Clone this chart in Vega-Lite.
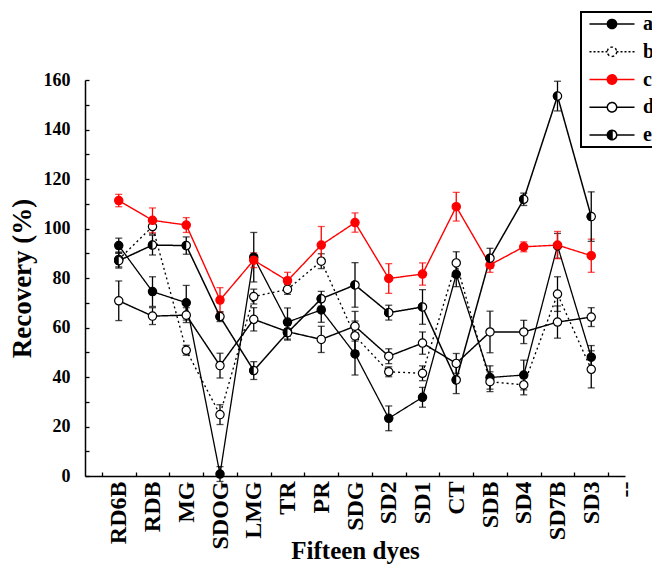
{
  "$schema": "https://vega.github.io/schema/vega-lite/v6.json",
  "width": 540,
  "height": 396,
  "autosize": {"type": "none"},
  "padding": {"left": 85, "top": 80, "right": 27, "bottom": 88},
  "background": "white",
  "config": {
    "view": {"stroke": null},
    "axis": {
      "domainColor": "black", "domainWidth": 1.5, "tickColor": "black", "tickWidth": 1.3,
      "labelFont": "Liberation Serif", "labelFontWeight": "bold", "labelColor": "black",
      "titleFont": "Liberation Serif", "titleFontWeight": "bold", "titleColor": "black", "grid": false
    }
  },
  "data": {"values": [
    {"dye":"RD6B","series":"a","value":93.1,"err":3},
    {"dye":"RDB","series":"a","value":74.5,"err":6},
    {"dye":"MG","series":"a","value":70,"err":7},
    {"dye":"SDOG","series":"a","value":0.8,"err":3},
    {"dye":"LMG","series":"a","value":88.4,"err":10},
    {"dye":"TR","series":"a","value":62.2,"err":5.7},
    {"dye":"PR","series":"a","value":67.1,"err":5},
    {"dye":"SDG","series":"a","value":49.3,"err":8.5},
    {"dye":"SD2","series":"a","value":23.3,"err":5},
    {"dye":"SD1","series":"a","value":31.8,"err":4},
    {"dye":"CT","series":"a","value":81.5,"err":5},
    {"dye":"SDB","series":"a","value":39.8,"err":4.7},
    {"dye":"SD4","series":"a","value":40.8,"err":6},
    {"dye":"SD7B","series":"a","value":93,"err":5},
    {"dye":"SD3","series":"a","value":48,"err":4.7},
    {"dye":"RD6B","series":"b","value":87.5,"err":3},
    {"dye":"RDB","series":"b","value":100.8,"err":3},
    {"dye":"MG","series":"b","value":50.8,"err":2},
    {"dye":"SDOG","series":"b","value":24.8,"err":4},
    {"dye":"LMG","series":"b","value":72.5,"err":3},
    {"dye":"TR","series":"b","value":75.4,"err":2},
    {"dye":"PR","series":"b","value":86.8,"err":3},
    {"dye":"SDG","series":"b","value":56.6,"err":6},
    {"dye":"SD2","series":"b","value":42.1,"err":2},
    {"dye":"SD1","series":"b","value":41.5,"err":3},
    {"dye":"CT","series":"b","value":86.1,"err":4.5},
    {"dye":"SDB","series":"b","value":38.1,"err":4},
    {"dye":"SD4","series":"b","value":36.8,"err":4},
    {"dye":"SD7B","series":"b","value":73.5,"err":7},
    {"dye":"SD3","series":"b","value":43.1,"err":7.5},
    {"dye":"RD6B","series":"c","value":111.3,"err":2.5},
    {"dye":"RDB","series":"c","value":103.3,"err":5},
    {"dye":"MG","series":"c","value":101.4,"err":3},
    {"dye":"SDOG","series":"c","value":71.1,"err":5},
    {"dye":"LMG","series":"c","value":87.2,"err":3},
    {"dye":"TR","series":"c","value":78.9,"err":3.4},
    {"dye":"PR","series":"c","value":93.3,"err":7.5},
    {"dye":"SDG","series":"c","value":102.4,"err":3.9},
    {"dye":"SD2","series":"c","value":79.8,"err":6},
    {"dye":"SD1","series":"c","value":81.6,"err":4.5},
    {"dye":"CT","series":"c","value":108.8,"err":5.8},
    {"dye":"SDB","series":"c","value":85.3,"err":3},
    {"dye":"SD4","series":"c","value":92.6,"err":2},
    {"dye":"SD7B","series":"c","value":93.3,"err":5.5},
    {"dye":"SD3","series":"c","value":89,"err":6.7},
    {"dye":"RD6B","series":"d","value":70.8,"err":8},
    {"dye":"RDB","series":"d","value":64.6,"err":3.4},
    {"dye":"MG","series":"d","value":65,"err":3},
    {"dye":"SDOG","series":"d","value":44.6,"err":5},
    {"dye":"LMG","series":"d","value":63.3,"err":4.7},
    {"dye":"TR","series":"d","value":58.3,"err":3},
    {"dye":"PR","series":"d","value":55.2,"err":5.3},
    {"dye":"SDG","series":"d","value":60.5,"err":6},
    {"dye":"SD2","series":"d","value":48.4,"err":3},
    {"dye":"SD1","series":"d","value":53.7,"err":4.5},
    {"dye":"CT","series":"d","value":45.5,"err":4},
    {"dye":"SDB","series":"d","value":58.2,"err":8.4},
    {"dye":"SD4","series":"d","value":58.2,"err":4.7},
    {"dye":"SD7B","series":"d","value":62.2,"err":6.5},
    {"dye":"SD3","series":"d","value":64.2,"err":3.8},
    {"dye":"RD6B","series":"e","value":87,"err":3},
    {"dye":"RDB","series":"e","value":93.3,"err":4},
    {"dye":"MG","series":"e","value":93.1,"err":3.5},
    {"dye":"SDOG","series":"e","value":64.4,"err":2},
    {"dye":"LMG","series":"e","value":42.6,"err":3.6},
    {"dye":"TR","series":"e","value":57.9,"err":3},
    {"dye":"PR","series":"e","value":71.6,"err":3},
    {"dye":"SDG","series":"e","value":77.2,"err":9},
    {"dye":"SD2","series":"e","value":66,"err":3},
    {"dye":"SD1","series":"e","value":68.3,"err":7},
    {"dye":"CT","series":"e","value":38.8,"err":5.5},
    {"dye":"SDB","series":"e","value":88,"err":4},
    {"dye":"SD4","series":"e","value":111.8,"err":2.5},
    {"dye":"SD7B","series":"e","value":153.5,"err":6},
    {"dye":"SD3","series":"e","value":104.8,"err":10}
  ]},
  "encoding": {
    "x": {
      "field": "dye", "type": "nominal", "sort": null,
      "scale": {"type": "point", "domain": ["RD6B","RDB","MG","SDOG","LMG","TR","PR","SDG","SD2","SD1","CT","SDB","SD4","SD7B","SD3","--"], "padding": 0.5, "align": 1},
      "axis": {
        "title": "Fifteen dyes", "titleFontSize": 25, "titleBaseline": "alphabetic", "titleY": 82,
        "labelAngle": -90, "labelFontSize": 24, "labelPadding": 9, "tickSize": -4,
        "tickOffset": -16.875, "labelOffset": 16.875
      }
    },
    "y": {
      "field": "value", "type": "quantitative",
      "scale": {"domain": [0, 160], "nice": false},
      "axis": {
        "title": "Recovery (%)", "titleFontSize": 27, "titlePadding": 7,
        "values": [0,10,20,30,40,50,60,70,80,90,100,110,120,130,140,150,160],
        "labelExpr": "datum.value % 20 === 0 ? datum.label : ''",
        "labelFontSize": 18, "labelPadding": 19, "tickSize": -4
      }
    }
  },
  "layer": [
    {
      "mark": {"type": "line"},
      "encoding": {
        "color": {
          "field": "series", "type": "nominal",
          "scale": {"domain": ["a","b","c","d","e"], "range": ["black","black","red","black","black"]},
          "legend": {
            "title": null, "orient": "none", "legendX": 496, "legendY": -68,
            "strokeColor": "black", "padding": 2, "fillColor": "white",
            "symbolSize": 100, "symbolOffset": 19, "labelOffset": 21, "rowPadding": 7.75,
            "labelFont": "Liberation Serif", "labelFontWeight": "bold", "labelFontSize": 20, "labelColor": "black",
            "encode": {
              "legend": {"update": {"strokeWidth": {"value": 2}}},
              "symbols": {
                "update": {
                  "shape": {"signal": "datum.value === 'b' ? 'M-4.5,0H-4.1M-3.7,0H-3.3M-2.9,0H-2.5M-2.1,0H-1.7M-1.3,0H-0.94M0.94,0H1.3M1.7,0H2.1M2.5,0H2.9M3.3,0H3.7M4.1,0H4.5M0.94,0A0.94,0.94,0,1,1,-0.94,0A0.94,0.94,0,1,1,0.94,0A0.94,0.94,0,1,0,-0.94,0A0.94,0.94,0,1,0,0.94,0' : datum.value === 'd' ? 'M-4.5,0H-0.94M0.94,0H4.5M0.94,0A0.94,0.94,0,1,1,-0.94,0A0.94,0.94,0,1,1,0.94,0A0.94,0.94,0,1,0,-0.94,0A0.94,0.94,0,1,0,0.94,0' : datum.value === 'e' ? 'M-4.5,0H-0.94M0.94,0H4.5M0,-0.94A0.94,0.94,0,0,0,0,0.94ZM0,-0.94A0.94,0.94,0,0,1,0,0.94A0.94,0.94,0,0,0,0,-0.94' : 'M-4.5,0H-0.94M0.94,0H4.5M0.94,0A0.94,0.94,0,1,1,-0.94,0A0.94,0.94,0,1,1,0.94,0Z'"},
                  "fill": {"signal": "datum.value === 'c' ? 'red' : 'black'"},
                  "stroke": {"signal": "datum.value === 'c' ? 'red' : 'black'"},
                  "strokeWidth": {"signal": "datum.value === 'c' ? 2 : 1.3"},
                  "opacity": {"value": 1}
                }
              }
            }
          }
        },
        "strokeDash": {
          "field": "series", "type": "nominal",
          "scale": {"domain": ["a","b","c","d","e"], "range": [[1,0],[2,3],[1,0],[1,0],[1,0]]},
          "legend": null
        },
        "strokeWidth": {
          "field": "series", "type": "nominal",
          "scale": {"domain": ["a","b","c","d","e"], "range": [1.3,1.5,2.2,1.2,1.3]},
          "legend": null
        }
      }
    },
    {
      "mark": {"type": "errorbar", "ticks": {"size": 7}, "thickness": 1.3},
      "encoding": {
        "yError": {"field": "err"},
        "color": {"field": "series", "type": "nominal", "legend": null}
      }
    },
    {
      "mark": {"type": "point", "shape": "circle", "filled": true, "size": 69, "strokeWidth": 1.2, "opacity": 1},
      "encoding": {
        "fill": {
          "field": "series", "type": "nominal",
          "scale": {"domain": ["a","b","c","d","e"], "range": ["black","white","red","white","white"]},
          "legend": null
        },
        "stroke": {
          "field": "series", "type": "nominal",
          "scale": {"domain": ["a","b","c","d","e"], "range": ["black","black","red","black","black"]},
          "legend": null
        }
      }
    },
    {
      "transform": [{"filter": "datum.series === 'e'"}],
      "mark": {"type": "point", "shape": "M0,-1A1,1,0,0,0,0,1Z", "filled": true, "size": 88, "color": "black", "strokeWidth": 0, "opacity": 1}
    }
  ]
}
